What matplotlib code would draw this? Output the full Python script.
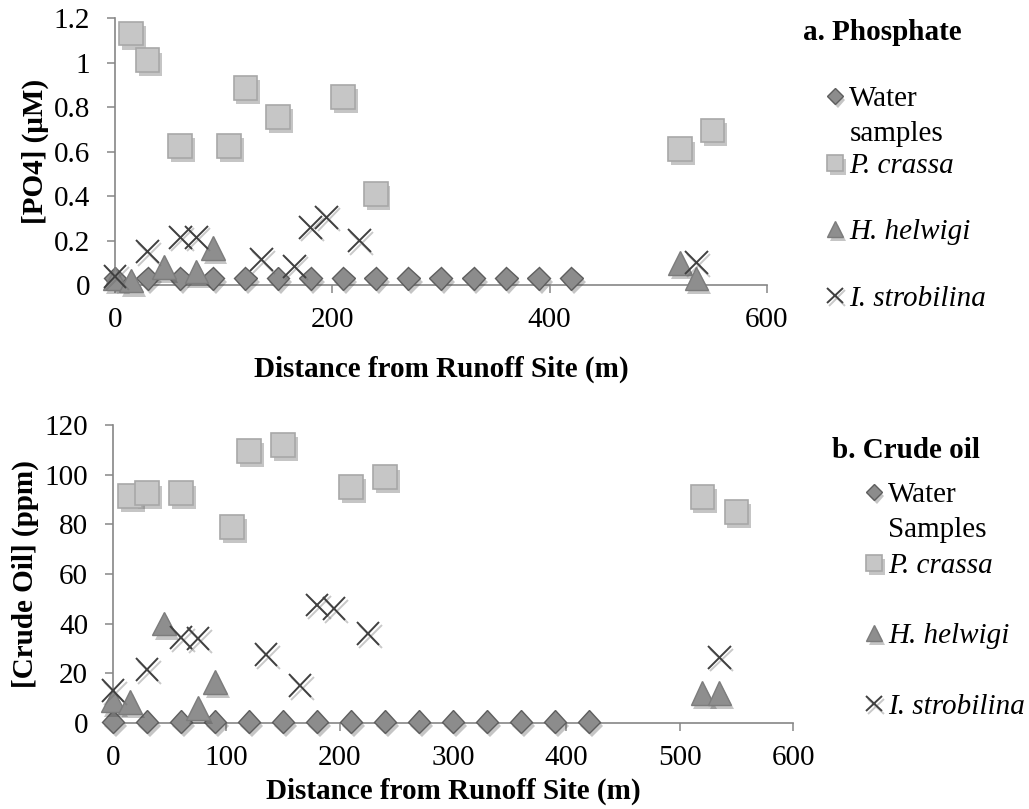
import matplotlib
matplotlib.use('Agg')
import matplotlib.pyplot as plt
import matplotlib.patheffects as pe

plt.rcParams['font.family'] = ['Liberation Serif', 'DejaVu Serif']

# distances (m)
water_x = [0, 30, 60, 90, 120, 150, 180, 210, 240, 270, 300, 330, 360, 390, 420]
crassa_x = [15, 30, 60, 105, 120, 150, 210, 240, 520, 550]
helwigi_x = [0, 15, 45, 75, 90, 520, 535]
strob_x = [0, 30, 60, 75, 135, 165, 180, 195, 225, 535]

# a. phosphate (uM)
po4_water = [0.03, 0.03, 0.03, 0.03, 0.03, 0.03, 0.03, 0.03, 0.03, 0.03,
             0.03, 0.03, 0.03, 0.03, 0.03]
po4_crassa = [1.13, 1.01, 0.625, 0.625, 0.885, 0.755, 0.845, 0.41, 0.61, 0.695]
po4_helwigi = [0.03, 0.02, 0.08, 0.06, 0.165, 0.10, 0.03]
po4_strob = [0.04, 0.15, 0.215, 0.215, 0.115, 0.085, 0.26, 0.305, 0.20, 0.10]

# b. crude oil (ppm)
oil_water = [0.5, 0.5, 0.5, 0.5, 0.5, 0.5, 0.5, 0.5, 0.5, 0.5,
             0.5, 0.5, 0.5, 0.5, 0.5]
oil_crassa = [91.5, 92.5, 92.5, 79, 109.5, 112, 95, 99, 91, 85]
oil_helwigi = [9, 8.5, 40, 6, 16.5, 12, 12]
oil_strob = [13, 21.5, 34.5, 34, 27.5, 15, 47.5, 46, 36, 26.5]

labels_a = ['Water', 'P. crassa', 'H. helwigi', 'I. strobilina']
labels_b = ['Water', 'P. crassa', 'H. helwigi', 'I. strobilina']

FS = 21
axis_grey = '#868686'

shadow = [pe.SimplePatchShadow(offset=(2, -3), shadow_rgbFace='0.25', alpha=0.3),
          pe.Normal()]
xshadow = [pe.SimpleLineShadow(offset=(1.5, -2), shadow_color='0.4', alpha=0.35),
           pe.Normal()]

fig = plt.figure(figsize=(10.29, 8.09), dpi=100)
ax1 = fig.add_axes([0.11176, 0.64771, 0.6336, 0.33004])
ax2 = fig.add_axes([0.10982, 0.10631, 0.66084, 0.36836])


def draw(ax, w, c, h, s):
    l1, = ax.plot(water_x, w, linestyle='none', marker='D', ms=11.7,
                  mfc='#8c8c8c', mec='#5e5e5e', mew=1.0, clip_on=False,
                  path_effects=shadow, zorder=3)
    l2, = ax.plot(crassa_x, c, linestyle='none', marker='s', ms=17,
                  mfc='#c6c6c6', mec='#a8a8a8', mew=1.2, clip_on=False,
                  path_effects=shadow, zorder=4)
    l3, = ax.plot(helwigi_x, h, linestyle='none', marker='^', ms=17,
                  mfc='#8e8e8e', mec='#7c7c7c', mew=1.0, clip_on=False,
                  path_effects=shadow, zorder=5)
    l4, = ax.plot(strob_x, s, linestyle='none', marker='x', ms=16.5,
                  mec='#404040', mew=1.4, clip_on=False,
                  path_effects=xshadow, zorder=6)
    for side in ['top', 'right']:
        ax.spines[side].set_visible(False)
    for side in ['left', 'bottom']:
        ax.spines[side].set_color(axis_grey)
        ax.spines[side].set_linewidth(1.2)
    ax.tick_params(direction='out', length=6, width=1.1, color=axis_grey,
                   labelsize=FS)
    ax.tick_params(axis='y', pad=12)
    ax.tick_params(axis='x', pad=10)
    return [l1, l2, l3, l4]


def legend(ax, handles, labels, anchor, spacing, second):
    leg = ax.legend(handles, labels, loc='upper left', bbox_to_anchor=anchor,
                    bbox_transform=fig.transFigure, frameon=False,
                    fontsize=FS, borderpad=0, borderaxespad=0,
                    handlelength=0.6, handletextpad=0.2,
                    labelspacing=spacing, markerscale=0.68)
    for t in leg.get_texts()[1:]:
        t.set_fontstyle('italic')
    # second line of the first label sits in the gap below it
    ax.annotate(second, xy=(0, 0.5), xycoords=leg.get_texts()[0],
                xytext=(0, -35), textcoords='offset pixels',
                va='center', ha='left', fontsize=FS, zorder=10)
    return leg


h1 = draw(ax1, po4_water, po4_crassa, po4_helwigi, po4_strob)
ax1.set_xlim(0, 600)
ax1.set_ylim(0, 1.2)
ax1.set_xticks([0, 200, 400, 600])
ax1.set_yticks([0, 0.2, 0.4, 0.6, 0.8, 1.0, 1.2])
ax1.set_yticklabels(['0', '0.2', '0.4', '0.6', '0.8', '1', '1.2'])
ax1.set_xlabel('Distance from Runoff Site (m)', fontsize=FS, fontweight='bold',
               labelpad=16)
ax1.set_ylabel('[PO4] (\u03bcM)', fontsize=FS, fontweight='bold', labelpad=3)
legend(ax1, h1, labels_a, (826 / 1029, 1 - 86 / 809), 1.37, 'samples')
fig.text(803 / 1029, 1 - 32 / 809, 'a. Phosphate', fontsize=FS,
         fontweight='bold', ha='left', va='center')

h2 = draw(ax2, oil_water, oil_crassa, oil_helwigi, oil_strob)
ax2.set_xlim(0, 600)
ax2.set_ylim(0, 120)
ax2.set_xticks([0, 100, 200, 300, 400, 500, 600])
ax2.set_yticks([0, 20, 40, 60, 80, 100, 120])
ax2.set_xlabel('Distance from Runoff Site (m)', fontsize=FS, fontweight='bold',
               labelpad=5)
ax2.set_ylabel('[Crude Oil] (ppm)', fontsize=FS, fontweight='bold', labelpad=4)
legend(ax2, h2, labels_b, (865 / 1029, 1 - 482 / 809), 1.51, 'Samples')
fig.text(832 / 1029, 1 - 450 / 809, 'b. Crude oil', fontsize=FS,
         fontweight='bold', ha='left', va='center')

fig.savefig('out.png', dpi=100)
